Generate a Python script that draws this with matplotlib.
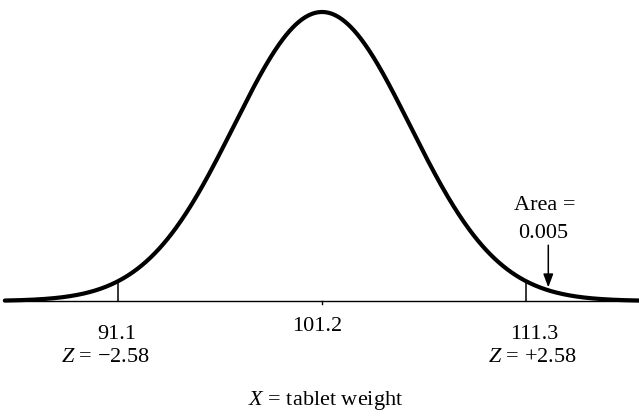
import numpy as np
import matplotlib.pyplot as plt

plt.rcParams['font.family'] = ['Liberation Serif', 'DejaVu Serif']
plt.rcParams['mathtext.fontset'] = 'custom'
plt.rcParams['mathtext.it'] = 'Liberation Serif:italic'
plt.rcParams['mathtext.rm'] = 'Liberation Serif'

# tablet weight distribution
mean = 101.2
sd_draw = 4.36          # spread used for the sketch of the curve
limits = [91.1, 111.3]
z_labels = ['$Z$ = \u22122.58', '$Z$ = +2.58']
tail_area = 0.005

px = 1 / 100
fig = plt.figure(figsize=(639 * px, 418 * px), dpi=100)
ax = fig.add_axes([0, 0, 1, 1])
ax.set_xlim(85.26, 116.89)
ax.set_ylim(-0.405, 1.0415)
ax.axis('off')


def curve(x):
    return np.exp(-0.5 * ((x - mean) / sd_draw) ** 2)


x = np.linspace(85.5, 117, 600)
ax.plot([85.4, 117], [0, 0], color='black', lw=1.0, solid_capstyle='butt')
ax.plot(x, curve(x), color='black', lw=3.0, solid_capstyle='round')

# cut-off lines at the 99% limits
for v in limits:
    ax.plot([v, v], [0, curve(v)], color='black', lw=1.1)
ax.plot([mean, mean], [0, -0.012], color='black', lw=1.0)

fs = 16
ax.text(91.05, -0.117, '91.1', ha='center', va='center', fontsize=fs)
ax.text(90.5, -0.197, z_labels[0], ha='center', va='center', fontsize=fs)
ax.text(100.95, -0.087, '101.2', ha='center', va='center', fontsize=fs)
ax.text(111.7, -0.117, '111.3', ha='center', va='center', fontsize=fs)
ax.text(111.6, -0.197, z_labels[1], ha='center', va='center', fontsize=fs)

ax.text(112.2, 0.329, 'Area =', ha='center', va='center', fontsize=fs)
ax.text(112.15, 0.235, f'{tail_area}', ha='center', va='center', fontsize=fs)
ax.annotate('', xy=(112.4, 0.047), xytext=(112.4, 0.193),
            arrowprops=dict(arrowstyle='-|>,head_length=0.8,head_width=0.3',
                            color='black', lw=1.1, shrinkA=0, shrinkB=0))

ax.text(101.4, -0.345, '$X$ = tablet weight', ha='center', va='center', fontsize=fs)

fig.savefig('out.png', dpi=100)
